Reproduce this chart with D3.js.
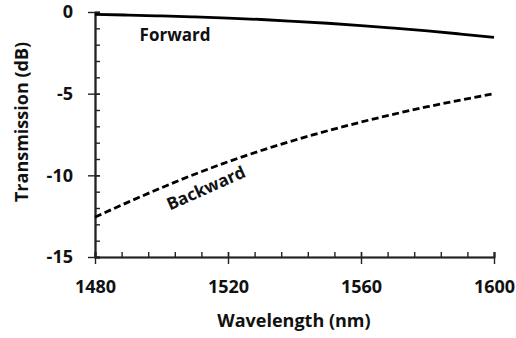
<!DOCTYPE html>
<html>
<head>
<meta charset="utf-8">
<script src="https://cdn.jsdelivr.net/npm/d3@7"></script>
<style>
  html, body { margin: 0; padding: 0; background: #fff; }
  svg { display: block; }
  text { font-family: "Open Sans", sans-serif; font-weight: 700; fill: #111; }
</style>
</head>
<body>
<svg id="chart" width="516" height="338"></svg>
<script>
// ---- data ----
const wavelengths = [1480, 1490, 1500, 1510, 1520, 1530, 1540, 1550, 1560, 1570, 1580, 1590, 1600];
const forward  = [-0.15, -0.19, -0.24, -0.30, -0.37, -0.46, -0.57, -0.69, -0.83, -0.99, -1.16, -1.35, -1.55];
const backward = [-12.56, -11.64, -10.76, -9.93, -9.17, -8.48, -7.85, -7.27, -6.74, -6.25, -5.80, -5.39, -5.0];
const xMajorTicks = [1480, 1520, 1560, 1600];
const xMinorTicks = d3.range(1480, 1601, 8);
const yMajorTicks = [0, -5, -10, -15];
const yMinorTicks = d3.range(0, -16, -1);
const seriesLabels = ["Forward", "Backward"];
const xTitle = "Wavelength (nm)";
const yTitle = "Transmission (dB)";

// ---- layout ----
const svg = d3.select("#chart");
const x = d3.scaleLinear().domain([1480, 1600]).range([95, 494]);
const y = d3.scaleLinear().domain([-15, 0]).range([257, 12]);

const axisColor = "#222";
const fmt = d => String(d);

// x axis: minor ticks inside, major crossing
const gx = svg.append("g").attr("transform", `translate(0,${y(-15)})`);
gx.call(d3.axisBottom(x).tickValues(xMinorTicks).tickSize(-5).tickFormat(""));
const gxM = svg.append("g").attr("transform", `translate(0,${y(-15)})`);
gxM.call(d3.axisBottom(x).tickValues(xMajorTicks).tickSizeInner(7).tickSizeOuter(0).tickPadding(16).tickFormat(fmt));
const gxM2 = svg.append("g").attr("transform", `translate(0,${y(-15)})`);
gxM2.call(d3.axisBottom(x).tickValues(xMajorTicks).tickSize(-5).tickFormat(""));

// y axis
const gy = svg.append("g").attr("transform", `translate(${x(1480)},0)`);
gy.call(d3.axisLeft(y).tickValues(yMinorTicks).tickSize(-5).tickFormat(""));
const gyM = svg.append("g").attr("transform", `translate(${x(1480)},0)`);
gyM.call(d3.axisLeft(y).tickValues(yMajorTicks).tickSizeInner(7).tickSizeOuter(0).tickPadding(15).tickFormat(fmt));
const gyM2 = svg.append("g").attr("transform", `translate(${x(1480)},0)`);
gyM2.call(d3.axisLeft(y).tickValues(yMajorTicks).tickSize(-5).tickFormat(""));

svg.selectAll(".domain").attr("stroke", axisColor).attr("stroke-width", 1.6);
svg.selectAll(".tick line").attr("stroke", axisColor).attr("stroke-width", 1.4);
svg.selectAll(".tick text")
  .style("font-family", '"Open Sans", sans-serif')
  .style("font-weight", 700)
  .style("font-size", "18px")
  .attr("fill", "#111");

// curves
const line = d3.line().x((d, i) => x(wavelengths[i])).y(d => y(d)).curve(d3.curveMonotoneX);
svg.append("path").datum(forward)
  .attr("d", line).attr("fill", "none").attr("stroke", "#000").attr("stroke-width", 2.8);
svg.append("path").datum(backward)
  .attr("d", line).attr("fill", "none").attr("stroke", "#000").attr("stroke-width", 2.8)
  .attr("stroke-dasharray", "7,3.5");

// series labels
svg.append("text").attr("x", 175).attr("y", 40.5).attr("text-anchor", "middle")
  .style("font-size", "17px").text(seriesLabels[0]);
svg.append("text").attr("transform", "translate(206,188) rotate(-24)")
  .attr("text-anchor", "middle").attr("dy", "0.35em")
  .style("font-size", "17px").text(seriesLabels[1]);

// axis titles
svg.append("text").attr("x", 294).attr("y", 327).attr("text-anchor", "middle")
  .style("font-size", "18px").text(xTitle);
svg.append("text").attr("transform", "translate(22,122) rotate(-90)")
  .attr("text-anchor", "middle").attr("dy", "0.35em")
  .style("font-size", "18px").text(yTitle);
</script>
</body>
</html>
